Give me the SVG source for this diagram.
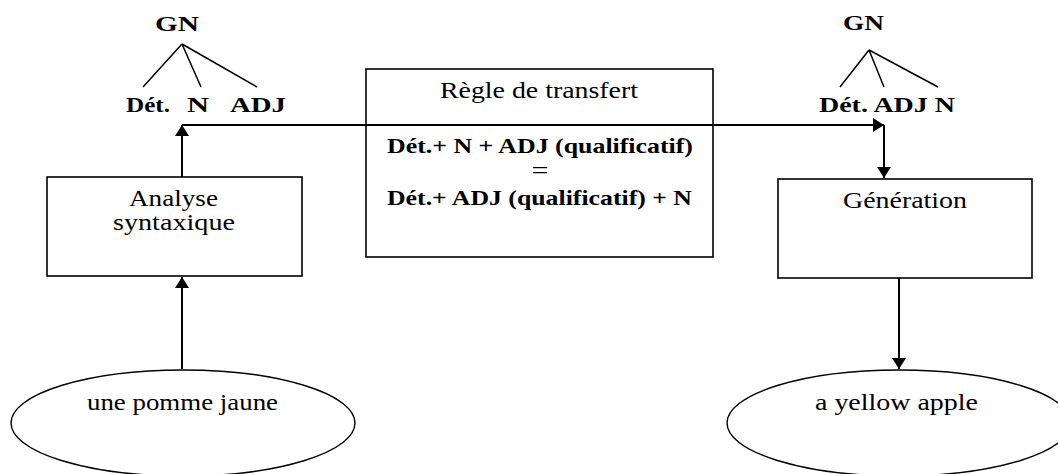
<svg xmlns="http://www.w3.org/2000/svg" width="1058" height="474" viewBox="0 0 1058 474">
<style>
  .box{fill:#fff;stroke:#000;stroke-width:1.6}
  .ell{fill:#fff;stroke:#000;stroke-width:1.4}
  text{font-family:'Liberation Serif','Times New Roman','DejaVu Serif',serif;font-size:23px;fill:#000}
  .b{font-weight:bold;font-size:22px}
  .tree{stroke:#000;stroke-width:1.5;fill:none}
  .con{stroke:#000;stroke-width:2;fill:none}
</style>
<defs>
  <marker id="ah" markerUnits="userSpaceOnUse" markerWidth="12" markerHeight="14" refX="11" refY="7" orient="auto">
    <path d="M0,0 L11,7 L0,14 Z" fill="#000"/>
  </marker>
</defs>
<rect width="1058" height="474" fill="#fff"/>

<g id="tree-source">
  <text class="b" x="155" y="31" textLength="44" lengthAdjust="spacingAndGlyphs">GN</text>
  <path class="tree" d="M182,44 L143,87 M182,44 L201,87 M182,44 L257,87"/>
  <text class="b" x="126" y="112" textLength="44" lengthAdjust="spacingAndGlyphs">Dét.</text>
  <text class="b" x="187" y="112" textLength="22" lengthAdjust="spacingAndGlyphs">N</text>
  <text class="b" x="230" y="112" textLength="56" lengthAdjust="spacingAndGlyphs">ADJ</text>
</g>

<g id="tree-target">
  <text class="b" x="843" y="30" textLength="41" lengthAdjust="spacingAndGlyphs">GN</text>
  <path class="tree" d="M869,50 L840,87 M869,50 L884,87 M869,50 L938,87"/>
  <text class="b" x="819" y="112" textLength="136" lengthAdjust="spacingAndGlyphs">Dét. ADJ N</text>
</g>

<g id="analyse">
  <rect class="box" x="47" y="177" width="255" height="99"/>
  <text x="129" y="206" textLength="89" lengthAdjust="spacingAndGlyphs">Analyse</text>
  <text x="113" y="230" textLength="122" lengthAdjust="spacingAndGlyphs">syntaxique</text>
</g>

<g id="regle">
  <rect class="box" x="366" y="69" width="347" height="188"/>
  <text x="440" y="98" textLength="198" lengthAdjust="spacingAndGlyphs">Règle de transfert</text>
  <text class="b" x="387" y="153" textLength="306" lengthAdjust="spacingAndGlyphs">Dét.+ N + ADJ (qualificatif)</text>
  <text x="540" y="178" text-anchor="middle" textLength="17" lengthAdjust="spacingAndGlyphs" style="font-size:24px">=</text>
  <text class="b" x="387" y="205" textLength="305" lengthAdjust="spacingAndGlyphs">Dét.+ ADJ (qualificatif) + N</text>
</g>

<g id="generation">
  <rect class="box" x="778" y="179" width="254" height="99"/>
  <text x="843" y="208" textLength="124" lengthAdjust="spacingAndGlyphs">Génération</text>
</g>

<g id="source">
  <ellipse class="ell" cx="183" cy="423" rx="172" ry="53"/>
  <text x="87" y="410" textLength="191" lengthAdjust="spacingAndGlyphs">une pomme jaune</text>
</g>

<g id="target">
  <ellipse class="ell" cx="899" cy="423" rx="172" ry="53"/>
  <text x="815" y="410" textLength="163" lengthAdjust="spacingAndGlyphs">a yellow apple</text>
</g>

<g id="connectors">
  <line class="con" x1="182" y1="369" x2="182" y2="277" marker-end="url(#ah)"/>
  <line class="con" x1="182" y1="177" x2="182" y2="125" marker-end="url(#ah)"/>
  <line class="con" x1="182" y1="125" x2="884" y2="125" marker-end="url(#ah)"/>
  <line class="con" x1="884" y1="125" x2="884" y2="178" marker-end="url(#ah)"/>
  <line class="con" x1="899" y1="278" x2="899" y2="369" marker-end="url(#ah)"/>
</g>
</svg>
